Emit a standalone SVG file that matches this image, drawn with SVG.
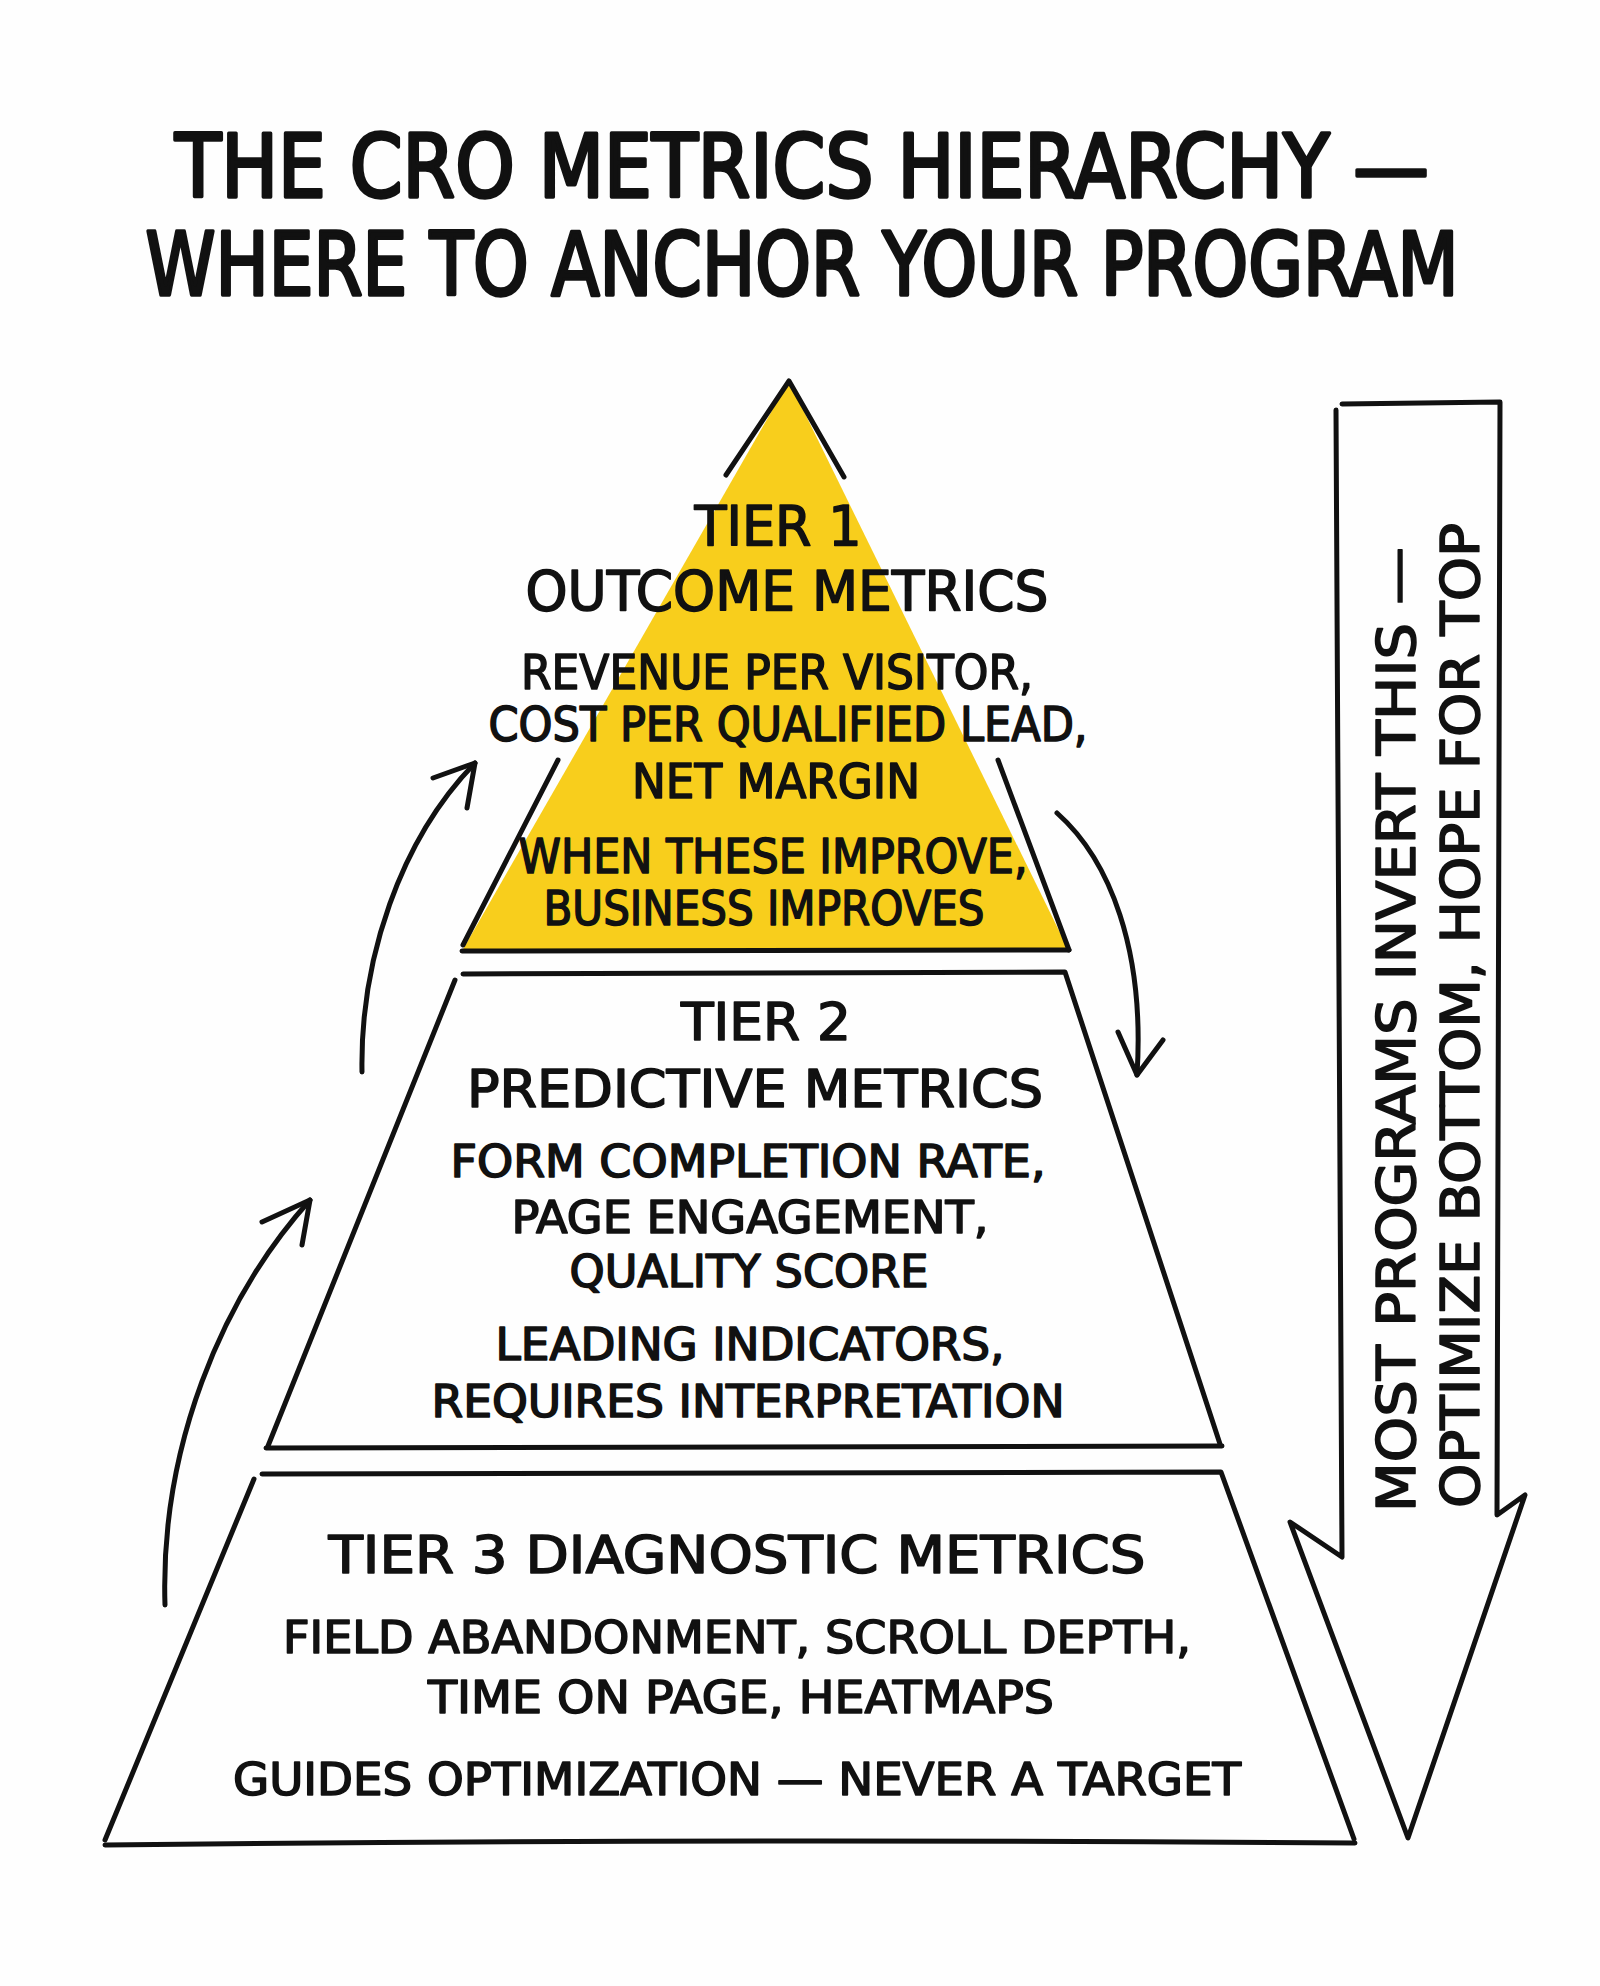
<svg xmlns="http://www.w3.org/2000/svg" width="1600" height="1986" viewBox="0 0 1600 1986">
<style>
.t{font-family:"Liberation Sans Narrow","DejaVu Sans Condensed","Liberation Sans",sans-serif;fill:#111;stroke:#111;stroke-width:1.5;stroke-linejoin:round;text-anchor:middle}
.title{font-size:88px;stroke-width:3.4}
.h1{font-size:56px}
.b1{font-size:48px}
.h{font-size:52px}
.b{font-size:45px}
.ln{fill:none;stroke:#111;stroke-width:5;stroke-linecap:round;stroke-linejoin:round}
</style>
<rect width="1600" height="1986" fill="#fefefe"/>
<g id="title">
<text class="t title" x="802" y="197" textLength="1254" lengthAdjust="spacingAndGlyphs">THE CRO METRICS HIERARCHY —</text>
<text class="t title" x="802" y="295" textLength="1313" lengthAdjust="spacingAndGlyphs">WHERE TO ANCHOR YOUR PROGRAM</text>
</g>
<g id="tier1">
<polygon points="789,381 462,951 1069,951" fill="#f8ce1c"/>
<path class="ln" d="M726,475 L789,381 L844,477"/>
<path class="ln" d="M558,760 L463,945"/>
<path class="ln" d="M998,760 L1069,950"/>
<path class="ln" d="M462,951 L1069,950" stroke-width="6"/>
<text class="t h1" x="778" y="545" textLength="167" lengthAdjust="spacingAndGlyphs">TIER 1</text>
<text class="t h1" x="787" y="610" textLength="523" lengthAdjust="spacingAndGlyphs">OUTCOME METRICS</text>
<text class="t b1" x="777" y="689" textLength="512" lengthAdjust="spacingAndGlyphs">REVENUE PER VISITOR,</text>
<text class="t b1" x="788" y="741" textLength="599" lengthAdjust="spacingAndGlyphs">COST PER QUALIFIED LEAD,</text>
<text class="t b1" x="776" y="798" textLength="288" lengthAdjust="spacingAndGlyphs">NET MARGIN</text>
<text class="t b1" x="773" y="873" textLength="509" lengthAdjust="spacingAndGlyphs">WHEN THESE IMPROVE,</text>
<text class="t b1" x="764" y="925" textLength="441" lengthAdjust="spacingAndGlyphs">BUSINESS IMPROVES</text>
</g>
<g id="tier2">
<path class="ln" d="M463,974 L1065,972 L1220,1444"/>
<path class="ln" d="M455,980 L268,1446"/>
<path class="ln" d="M266,1448 L1222,1446"/>
<text class="t h" x="766" y="1040" textLength="170" lengthAdjust="spacingAndGlyphs">TIER 2</text>
<text class="t h" x="755" y="1107" textLength="576" lengthAdjust="spacingAndGlyphs">PREDICTIVE METRICS</text>
<text class="t b" x="748" y="1177" textLength="595" lengthAdjust="spacingAndGlyphs">FORM COMPLETION RATE,</text>
<text class="t b" x="750" y="1233" textLength="477" lengthAdjust="spacingAndGlyphs">PAGE ENGAGEMENT,</text>
<text class="t b" x="749" y="1287" textLength="359" lengthAdjust="spacingAndGlyphs">QUALITY SCORE</text>
<text class="t b" x="750" y="1360" textLength="509" lengthAdjust="spacingAndGlyphs">LEADING INDICATORS,</text>
<text class="t b" x="748" y="1417" textLength="633" lengthAdjust="spacingAndGlyphs">REQUIRES INTERPRETATION</text>
</g>
<g id="tier3">
<path class="ln" d="M262,1474 L1221,1472 L1354,1839"/>
<path class="ln" d="M254,1479 L105,1840"/>
<path class="ln" d="M105,1845 Q700,1838 1355,1843"/>
<text class="t h" x="737" y="1573" textLength="817" lengthAdjust="spacingAndGlyphs">TIER 3 DIAGNOSTIC METRICS</text>
<text class="t b" x="737" y="1653" textLength="908" lengthAdjust="spacingAndGlyphs">FIELD ABANDONMENT, SCROLL DEPTH,</text>
<text class="t b" x="741" y="1713" textLength="626" lengthAdjust="spacingAndGlyphs">TIME ON PAGE, HEATMAPS</text>
<text class="t b" x="737" y="1795" textLength="1008" lengthAdjust="spacingAndGlyphs">GUIDES OPTIMIZATION — NEVER A TARGET</text>
</g>
<g id="bigarrow">
<path class="ln" d="M1342,404 L1500,402 L1497,1515 L1525,1495 L1408,1838 L1290,1522 L1342,1557 L1336,410" fill="#fefefe"/>
<text class="t" font-size="54" transform="translate(1415,1512) rotate(-90)" style="text-anchor:start" x="0" y="0" textLength="965" lengthAdjust="spacingAndGlyphs">MOST PROGRAMS INVERT THIS —</text>
<text class="t" font-size="54" transform="translate(1479,1508) rotate(-90)" style="text-anchor:start" x="0" y="0" textLength="985" lengthAdjust="spacingAndGlyphs">OPTIMIZE BOTTOM, HOPE FOR TOP</text>
</g>
<g id="connectors">
<path class="ln" d="M362,1072 C360,960 400,840 475,763"/>
<path class="ln" d="M433,778 L475,763 L467,808"/>
<path class="ln" d="M165,1605 C160,1450 220,1300 310,1200"/>
<path class="ln" d="M262,1222 L310,1200 L302,1245"/>
<path class="ln" d="M1057,813 C1110,860 1145,950 1137,1075"/>
<path class="ln" d="M1118,1032 L1137,1075 L1163,1040"/>
</g>
</svg>
